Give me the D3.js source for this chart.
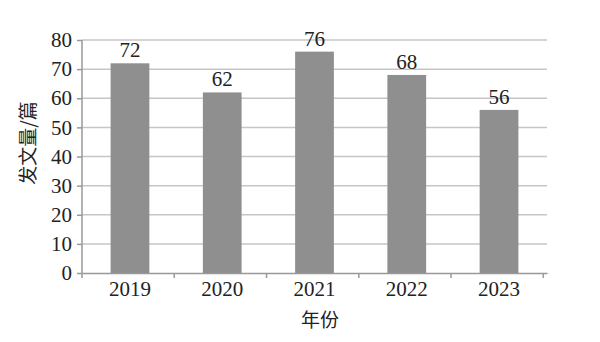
<!DOCTYPE html>
<html>
<head>
<meta charset="utf-8">
<script src="https://cdn.jsdelivr.net/npm/d3@7"></script>
<style>
  body { margin: 0; background: #fff; }
</style>
</head>
<body>
<div id="chart"></div>
<script>
var years = ["2019", "2020", "2021", "2022", "2023"];
var counts = [72, 62, 76, 68, 56];
var yTicks = [0, 10, 20, 30, 40, 50, 60, 70, 80];

var serif = "'Liberation Serif', 'Times New Roman', serif";
var cjk = "'Noto Sans CJK SC', sans-serif";

var margin = { top: 40, right: 53, bottom: 69, left: 82 },
    width = 600 - margin.left - margin.right,
    height = 342 - margin.top - margin.bottom;

var svg = d3.select("#chart")
    .append("svg")
    .attr("width", 600)
    .attr("height", 342)
    .append("g")
    .attr("transform", "translate(" + margin.left + "," + margin.top + ")");

var x = d3.scaleBand()
    .range([0, width])
    .domain(years)
    .paddingInner(0.58)
    .paddingOuter(0.31);

var y = d3.scaleLinear()
    .domain([0, 80])
    .range([height, 0]);

// gridlines
svg.selectAll(".grid")
    .data(yTicks.filter(d => d > 0))
    .join("line")
    .attr("x1", 0)
    .attr("x2", width)
    .attr("y1", d => y(d))
    .attr("y2", d => y(d))
    .attr("stroke", "#c6c6c6")
    .attr("stroke-width", 1.5);

// Y axis
var yAxis = svg.append("g")
    .call(d3.axisLeft(y).tickValues(yTicks).tickSize(5).tickPadding(5));
yAxis.selectAll("line, path").attr("stroke", "#999").attr("stroke-width", 1.5);
yAxis.select(".domain").attr("d", "M0," + height + "V0");
yAxis.selectAll("text")
    .style("font-family", serif)
    .style("font-size", "21px")
    .attr("fill", "#222");

// X axis
var xAxis = svg.append("g")
    .attr("transform", "translate(0," + height + ")")
    .call(d3.axisBottom(x).tickSize(0).tickPadding(8));
xAxis.selectAll("line, path").attr("stroke", "#999").attr("stroke-width", 1.5);
xAxis.selectAll("text")
    .style("font-family", serif)
    .style("font-size", "21px")
    .attr("fill", "#222");
// ticks at band boundaries
xAxis.selectAll(".sep")
    .data(d3.range(years.length + 1))
    .join("line")
    .attr("x1", i => i * x.step())
    .attr("x2", i => i * x.step())
    .attr("y1", 0)
    .attr("y2", 5)
    .attr("stroke", "#999")
    .attr("stroke-width", 1.5);

// Bars
svg.selectAll("rect.bar")
    .data(years)
    .join("rect")
    .attr("class", "bar")
    .attr("x", d => x(d))
    .attr("y", (d, i) => y(counts[i]))
    .attr("width", x.bandwidth())
    .attr("height", (d, i) => height - y(counts[i]))
    .attr("fill", "#8f8f8f");

// value labels
svg.selectAll("text.val")
    .data(years)
    .join("text")
    .attr("class", "val")
    .attr("x", d => x(d) + x.bandwidth() / 2)
    .attr("y", (d, i) => y(counts[i]) - 6)
    .attr("text-anchor", "middle")
    .attr("fill", "#222")
    .style("font-family", serif)
    .style("font-size", "21px")
    .text((d, i) => counts[i]);

// axis titles
svg.append("text")
    .attr("x", 320 - margin.left)
    .attr("y", 327 - margin.top)
    .attr("text-anchor", "middle")
    .attr("fill", "#222")
    .style("font-family", cjk)
    .style("font-size", "19px")
    .text("年份");

svg.append("text")
    .attr("transform", "translate(" + (35 - margin.left) + "," + (143 - margin.top) + ") rotate(-90)")
    .attr("text-anchor", "middle")
    .attr("fill", "#222")
    .style("font-family", cjk)
    .style("font-size", "19px")
    .text("发文量/篇");
</script>
</body>
</html>
